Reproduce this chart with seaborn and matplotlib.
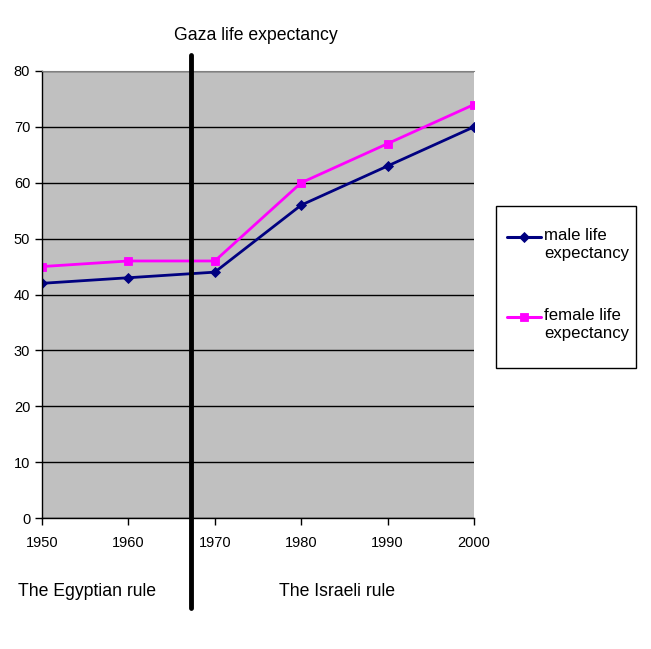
import pandas as pd
import numpy as np
import matplotlib
matplotlib.use("Agg")
import matplotlib.pyplot as plt
from matplotlib.patches import Rectangle
import seaborn as sns

years = [1950, 1960, 1970, 1980, 1990, 2000]
male = [42, 43, 44, 56, 63, 70]
female = [45, 46, 46, 60, 67, 74]
series_names = ["male life\nexpectancy", "female life\nexpectancy"]
colors = ["#000080", "#ff00ff"]
markers = ["D", "s"]
split_year = 1967.2

df = pd.DataFrame({
    "Year": years * 2,
    "Life": male + female,
    "Series": [series_names[0]] * 6 + [series_names[1]] * 6,
})

sns.set_style("white")
plt.rcParams["font.family"] = ["Liberation Sans", "DejaVu Sans"]
plt.rcParams["text.color"] = "black"

W, H = 651, 649
fig = plt.figure(figsize=(W / 100, H / 100), dpi=100)
ax = fig.add_axes([42 / W, (H - 518) / H, (474 - 42) / W, (518 - 71) / H])
ax.set_facecolor("#c0c0c0")

sns.lineplot(data=df, x="Year", y="Life", hue="Series", style="Series",
             palette=colors, markers=markers, dashes=False,
             markersize=5.5, linewidth=2, ax=ax, legend=False)
for ln, c in zip(ax.lines, colors):
    ln.set_markeredgecolor(c)
    ln.set_markeredgewidth(0.6)

ax.set_xlim(1950, 2000)
ax.set_ylim(0, 80)
ax.set_xticks(years)
ax.set_yticks(range(0, 81, 10))
ax.yaxis.grid(True, color="black", linewidth=1)
ax.set_axisbelow(True)
ax.set_xlabel("")
ax.set_ylabel("")
ax.tick_params(axis="both", direction="out", length=5, width=1, color="black",
               labelcolor="black", labelsize=10.5, left=True, bottom=True)
ax.tick_params(axis="x", pad=8)
for s in ["left", "bottom"]:
    ax.spines[s].set_color("black")
    ax.spines[s].set_linewidth(1)
ax.spines["top"].set_color("#808080")
ax.spines["right"].set_visible(False)

# division line between the two periods
ax.plot([split_year, split_year], [-16.1, 82.9], color="black", linewidth=3.5,
        clip_on=False, zorder=5, solid_capstyle="round")

fs = 12.7
fig.text(256 / W, 1 - 35 / H, "Gaza life expectancy", ha="center", va="center", fontsize=fs)
fig.text(87 / W, 1 - 592 / H, "The Egyptian rule", ha="center", va="center", fontsize=fs)
fig.text(337 / W, 1 - 592 / H, "The Israeli rule", ha="center", va="center", fontsize=fs)

# legend drawn by hand to match the boxed layout
fig.add_artist(Rectangle((496 / W, 1 - 368 / H), 140 / W, 162 / H, transform=fig.transFigure,
                         facecolor="white", edgecolor="black", linewidth=1))
for name, c, m, yl in zip(series_names, colors, markers, [237, 317]):
    fig.add_artist(plt.Line2D([507 / W, 541 / W], [1 - yl / H, 1 - yl / H], transform=fig.transFigure,
                              color=c, linewidth=2.2))
    fig.add_artist(plt.Line2D([524 / W], [1 - yl / H], transform=fig.transFigure, color=c,
                              marker=m, markersize=5.5, markeredgecolor=c, markeredgewidth=0.6))
    fig.text(544 / W, 1 - (yl - 9) / H, name, ha="left", va="top", fontsize=12.1, linespacing=1.25)

fig.savefig("out.png", dpi=100)
